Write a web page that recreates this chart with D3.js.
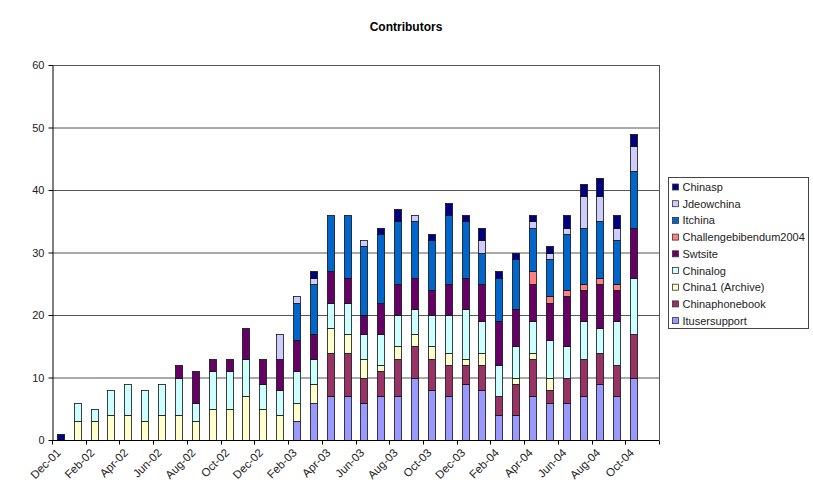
<!DOCTYPE html>
<html>
<head>
<meta charset="utf-8">
<script src="https://cdn.jsdelivr.net/npm/d3@7"></script>
<style>
  body { margin: 0; background: #fff; }
  text { font-family: "Liberation Sans", Arial, sans-serif; }
</style>
</head>
<body>
<div id="chart"></div>
<script>
// months, Dec-01 .. Nov-04 (Nov-04 has no data)
var months = ["Dec-01","Jan-02","Feb-02","Mar-02","Apr-02","May-02","Jun-02","Jul-02","Aug-02","Sep-02","Oct-02","Nov-02",
  "Dec-02","Jan-03","Feb-03","Mar-03","Apr-03","May-03","Jun-03","Jul-03","Aug-03","Sep-03","Oct-03","Nov-03",
  "Dec-03","Jan-04","Feb-04","Mar-04","Apr-04","May-04","Jun-04","Jul-04","Aug-04","Sep-04","Oct-04","Nov-04"];

// series, bottom of the stack first
var itusersupport   = [0,0,0,0,0,0,0,0,0,0,0,0, 0,0,3,6,7,7,6,7,7,10,8,7, 9,8,4,4,7,6,6,7,9,7,10,0];
var chinaphonebook  = [0,0,0,0,0,0,0,0,0,0,0,0, 0,0,0,0,7,7,4,4,6,5,5,5, 3,4,3,5,6,2,4,6,5,5,7,0];
var china1Archive   = [0,3,3,4,4,3,4,4,3,5,5,7, 5,4,3,3,4,3,3,1,2,2,2,2, 1,2,0,1,1,2,0,0,0,0,0,0];
var chinalog        = [0,3,2,4,5,5,5,6,3,6,6,6, 4,4,5,4,4,5,4,5,5,4,5,6, 8,5,5,5,5,6,5,6,4,7,9,0];
var swtsite         = [0,0,0,0,0,0,0,2,5,2,2,5, 4,5,5,4,5,4,3,5,5,5,4,5, 5,6,7,6,6,6,8,5,7,5,8,0];
var challenge2004   = [0,0,0,0,0,0,0,0,0,0,0,0, 0,0,0,0,0,0,0,0,0,0,0,0, 0,0,0,0,2,1,1,1,1,1,0,0];
var itchina         = [0,0,0,0,0,0,0,0,0,0,0,0, 0,0,6,8,9,10,11,11,10,9,8,11, 9,5,7,8,7,6,9,9,9,7,9,0];
var jdeowchina      = [0,0,0,0,0,0,0,0,0,0,0,0, 0,4,1,1,0,0,1,0,0,1,0,0, 0,2,0,0,1,1,1,5,4,2,4,0];
var chinasp         = [1,0,0,0,0,0,0,0,0,0,0,0, 0,0,0,1,0,0,0,1,2,0,1,2, 1,2,1,1,1,1,2,2,3,2,2,0];

var seriesNames  = ["Itusersupport","Chinaphonebook","China1 (Archive)","Chinalog","Swtsite",
                    "Challengebibendum2004","Itchina","Jdeowchina","Chinasp"];
var seriesValues = [itusersupport, chinaphonebook, china1Archive, chinalog, swtsite,
                    challenge2004, itchina, jdeowchina, chinasp];
var seriesColors = ["#9999FF","#993366","#FFFFCC","#CCFFFF","#660066","#FF8080","#0066CC","#CCCCFF","#000080"];
var yTicks = [0,10,20,30,40,50,60];

// build rows for d3.stack
var rows = months.map(function(m, i){
  var r = {month: m};
  seriesNames.forEach(function(s, j){ r[s] = seriesValues[j][i]; });
  return r;
});

var W = 813, H = 500;
var margin = {top: 65, right: 154, bottom: 60, left: 52};
var width = W - margin.left - margin.right,
    height = H - margin.top - margin.bottom;

var svg = d3.select("#chart").append("svg")
  .attr("width", W).attr("height", H);

svg.append("text")
  .attr("x", 406).attr("y", 31)
  .attr("text-anchor", "middle")
  .style("font-size", "12px").style("font-weight", "bold")
  .text("Contributors");

var g = svg.append("g")
  .attr("transform", "translate(" + margin.left + "," + margin.top + ")");

var x = d3.scaleBand().domain(months).range([0, width]).paddingInner(0.58).paddingOuter(0.29);
var y = d3.scaleLinear().domain([0, 60]).range([height, 0]);

// gridlines
g.selectAll(".grid").data(yTicks.slice(1)).enter().append("line")
  .attr("x1", 0).attr("x2", width)
  .attr("y1", function(d){ return y(d) + 0.5; }).attr("y2", function(d){ return y(d) + 0.5; })
  .attr("stroke", "#555").attr("stroke-width", 1);

// right border of the plot area
g.append("line")
  .attr("x1", width + 0.5).attr("x2", width + 0.5).attr("y1", 0).attr("y2", height)
  .attr("stroke", "#555");

var stack = d3.stack().keys(seriesNames);
var layers = stack(rows);

g.selectAll(".layer").data(layers).enter().append("g")
  .attr("fill", function(d, i){ return seriesColors[i]; })
  .selectAll("rect")
  .data(function(d){ return d.filter(function(p){ return p[1] > p[0]; }); })
  .enter().append("rect")
    .attr("x", function(d){ return Math.round(x(d.data.month)) + 0.5; })
    .attr("width", Math.round(x.bandwidth()))
    .attr("y", function(d){ return Math.round(y(d[1])) + 0.5; })
    .attr("height", function(d){ return Math.round(y(d[0])) - Math.round(y(d[1])); })
    .attr("stroke", "#111").attr("stroke-width", 0.8);

// y axis
var yAxis = g.append("g").attr("transform", "translate(0.5,0)")
  .call(d3.axisLeft(y).tickValues(yTicks).tickSize(4).tickSizeOuter(0).tickPadding(4));
yAxis.select(".domain").attr("stroke", "#000");
yAxis.selectAll("text").style("font-size", "11px").style("font-family", "Liberation Sans, Arial, sans-serif").attr("fill", "#222");

// x axis
var step = x.step();
var xa = g.append("g").attr("transform", "translate(0," + (height + 0.5) + ")");
xa.append("line").attr("x1", 0).attr("x2", width).attr("stroke", "#000");
xa.selectAll(".tick").data(d3.range(0, months.length + 1, 2)).enter().append("line")
  .attr("x1", function(k){ return Math.round(k * step) + 0.5; })
  .attr("x2", function(k){ return Math.round(k * step) + 0.5; })
  .attr("y1", 0).attr("y2", 4).attr("stroke", "#000");
xa.selectAll(".lbl").data(months.filter(function(m, i){ return i % 2 === 0; })).enter().append("text")
  .attr("text-anchor", "end")
  .attr("transform", function(m){
    var cx = x(m) + x.bandwidth() / 2;
    return "translate(" + (cx + 1) + ",13) rotate(-45)";
  })
  .style("font-size", "11.5px").attr("fill", "#222")
  .text(function(m){ return m; });

// legend
var lg = svg.append("g").attr("transform", "translate(668.5,177.5)");
lg.append("rect").attr("width", 140).attr("height", 151)
  .attr("fill", "#fff").attr("stroke", "#444");
var legendOrder = d3.range(seriesNames.length).reverse();
var items = lg.selectAll(".item").data(legendOrder).enter().append("g")
  .attr("transform", function(d, i){ return "translate(4," + (6.5 + i * 16.7) + ")"; });
items.append("rect").attr("width", 6).attr("height", 6).attr("y", 0)
  .attr("fill", function(d){ return seriesColors[d]; })
  .attr("stroke", "#333").attr("stroke-width", 0.8);
items.append("text").attr("x", 10).attr("y", 7)
  .style("font-size", "11px").attr("fill", "#222")
  .text(function(d){ return seriesNames[d]; });
</script>
</body>
</html>
